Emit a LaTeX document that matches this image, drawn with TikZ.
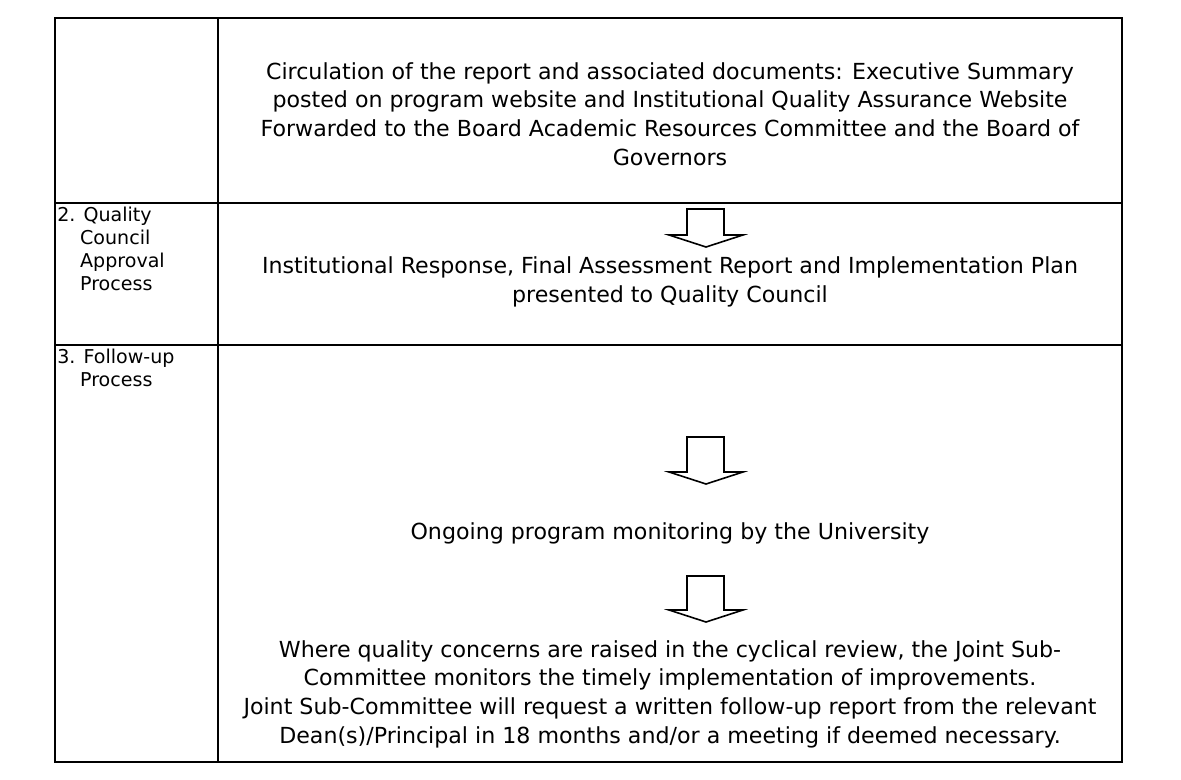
\documentclass[tikz,border=0pt]{standalone}
\usepackage{fontspec}
\setmainfont{DejaVu Sans}
\begin{document}
\begin{tikzpicture}[x=0.75pt,y=-0.75pt,
  grid/.style={line width=1.5pt},
  txt/.style={font=\fontsize{16.6pt}{21.5pt}\selectfont, align=center, inner sep=0pt},
  lbl/.style={font=\fontsize{14.3pt}{17.3pt}\selectfont, align=left, anchor=north west, inner sep=0pt},
  barrow/.style={line width=1.2pt, line join=miter}]
\useasboundingbox (0,0) rectangle (1181,780);
% table
\draw[grid] (55,18) rectangle (1122,762);
\draw[grid] (218,18) -- (218,762);
\draw[grid] (55,203) -- (1122,203);
\draw[grid] (55,345) -- (1122,345);
% row 1
\node[txt] (r1) at (670,114) {Circulation of the report and associated documents: Executive Summary\\posted on program website and Institutional Quality Assurance Website\\Forwarded to the Board Academic Resources Committee and the Board of\\Governors};
% row 2
\node[lbl] (l2) at (57,207) {2. Quality\\\hspace*{1.2em}Council\\\hspace*{1.2em}Approval\\\hspace*{1.2em}Process};
\draw[barrow] (687,209) -- (724,209) -- (724,235) -- (743,235) -- (706,247) -- (669,235) -- (687,235) -- cycle;
\node[txt] (r2) at (670,282) {Institutional Response, Final Assessment Report and Implementation Plan\\presented to Quality Council};
% row 3
\node[lbl] (l3) at (57,349) {3. Follow-up\\\hspace*{1.2em}Process};
\draw[barrow] (687,437) -- (724,437) -- (724,472) -- (743,472) -- (706,484) -- (669,472) -- (687,472) -- cycle;
\node[txt] (r3) at (670,533) {Ongoing program monitoring by the University};
\draw[barrow] (687,576) -- (724,576) -- (724,610) -- (743,610) -- (706,622) -- (669,610) -- (687,610) -- cycle;
\node[txt] (r4) at (670,694) {Where quality concerns are raised in the cyclical review, the Joint Sub-\\Committee monitors the timely implementation of improvements.\\Joint Sub-Committee will request a written follow-up report from the relevant\\Dean(s)/Principal in 18 months and/or a meeting if deemed necessary.};
\end{tikzpicture}
\end{document}
